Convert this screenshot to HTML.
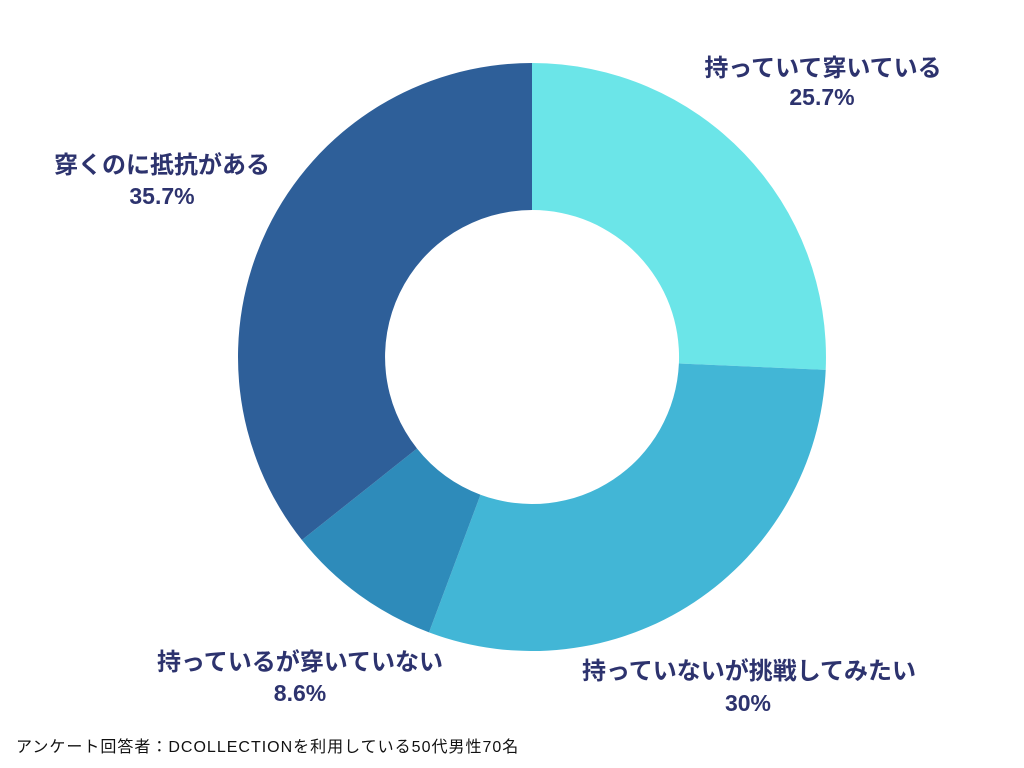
<!DOCTYPE html>
<html><head><meta charset="utf-8"><style>
html,body{margin:0;padding:0;background:#fff;width:1024px;height:768px;overflow:hidden}
svg text{font-family:"Liberation Sans","Noto Sans CJK JP",sans-serif}
.l{font-size:24px;font-weight:bold;fill:#2d336e}
.n{font-size:23px;font-weight:bold;fill:#2d336e}
</style></head><body>
<svg width="1024" height="768" viewBox="0 0 1024 768">
<path d="M532 63 A294 294 0 0 1 825.7 369.9 L678.9 363.5 A147 147 0 0 0 532 210 Z" fill="#6be5e8"/>
<path d="M825.7 369.9 A294 294 0 0 1 429 632.4 L480.5 494.7 A147 147 0 0 0 678.9 363.5 Z" fill="#42b6d6"/>
<path d="M429 632.4 A294 294 0 0 1 301.9 540 L417 448.5 A147 147 0 0 0 480.5 494.7 Z" fill="#2e8bba"/>
<path d="M301.9 540 A294 294 0 0 1 532 63 L532 210 A147 147 0 0 0 417 448.5 Z" fill="#2e5f99"/>
<text class="l" x="823" y="76" text-anchor="middle">持っていて穿いている</text>
<text class="n" x="822" y="105" text-anchor="middle">25.7%</text>
<text class="l" x="162" y="173" text-anchor="middle">穿くのに抵抗がある</text>
<text class="n" x="162" y="204" text-anchor="middle">35.7%</text>
<text class="l" x="749" y="679" text-anchor="middle">持っていないが挑戦してみたい</text>
<text class="n" x="748" y="711" text-anchor="middle">30%</text>
<text class="l" x="300" y="670" text-anchor="middle">持っているが穿いていない</text>
<text class="n" x="300" y="701" text-anchor="middle">8.6%</text>
<text x="16" y="752" font-size="16" letter-spacing="1" fill="#111">アンケート回答者：DCOLLECTIONを利用している50代男性70名</text>
</svg>
</body></html>
